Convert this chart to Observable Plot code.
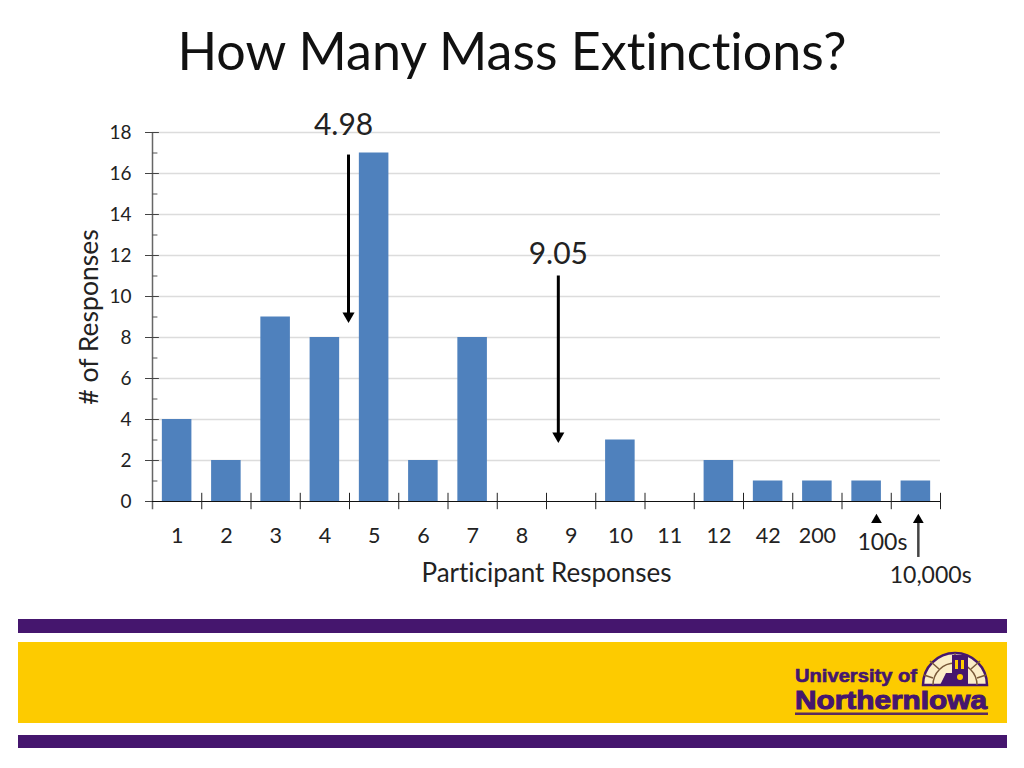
<!DOCTYPE html>
<html>
<head>
<meta charset="utf-8">
<script src="https://cdn.jsdelivr.net/npm/d3@7"></script>
<script src="https://cdn.jsdelivr.net/npm/@observablehq/plot@0.6"></script>
<style>
  html, body { margin: 0; padding: 0; background: #fff; width: 1024px; height: 768px; overflow: hidden; font-family: Lato, sans-serif; font-variant-ligatures: none; }
  #title { height: 100px; margin: 0; line-height: 100px; text-align: center; font-size: 52px; font-weight: 400; color: #111; }
  #chart svg { display: block; }
  .band { position: absolute; left: 18px; width: 989px; }
  #logo { position: absolute; left: 780px; top: 642px; }
</style>
</head>
<body>
<h1 id="title">How Many Mass Extinctions?</h1>
<div id="chart"></div>
<div class="band" style="top:619px;height:14px;background:#45166e"></div>
<div class="band" style="top:642px;height:81px;background:#fdcb00"></div>
<div class="band" style="top:735px;height:13px;background:#45166e"></div>
<svg id="logo" width="220" height="81" viewBox="0 0 220 81">
  <path d="M143 43 A32 32 0 0 1 207 43 Z" fill="#fbedc8" stroke="#45166e" stroke-width="2.5"/>
  <g stroke="#7a5a3a" stroke-width="1.5" fill="none">
    <path d="M153 43 A22 22 0 0 1 197 43"/>
    <path d="M175 21 L175 11 M159 27 L150 19 M191 27 L200 19 M153 36 L144 33 M197 36 L206 33"/>
  </g>
  <path d="M172 13 H188 V43 H160 L166 31 H172 Z" fill="#45166e"/>
  <rect x="175" y="18" width="3" height="9" fill="#fdcb00"/>
  <rect x="181" y="18" width="3" height="9" fill="#fdcb00"/>
  <circle cx="180" cy="35" r="3" fill="#fdcb00"/>
  <text x="15" y="40" font-family="Liberation Sans" font-weight="700" font-size="18" fill="#45166e" stroke="#45166e" stroke-width=".6" textLength="122" lengthAdjust="spacingAndGlyphs">University of</text>
  <text x="15" y="67" font-family="Liberation Sans" font-weight="700" font-size="25" fill="#45166e" stroke="#45166e" stroke-width="1" textLength="192" lengthAdjust="spacingAndGlyphs">NorthernIowa</text>
  <rect x="15" y="70.5" width="193" height="2.5" fill="#5a2a5e"/>
</svg>
<script>
const categories = ["1","2","3","4","5","6","7","8","9","10","11","12","42","200","100s","10,000s"];
const counts = [4,2,9,8,17,2,8,0,0,3,0,2,1,1,1,1];
const axisLabels = ["1","2","3","4","5","6","7","8","9","10","11","12","42","200"];
const yMajor = [0,2,4,6,8,10,12,14,16,18];
const yMinor = [1,3,5,7,9,11,13,15,17];
const means = [
  {label: "4.98", lx: 3.88, ly: 18.35, ax: 3.98, top: 16.9, tip: 9.05},
  {label: "9.05", lx: 8.24, ly: 12.05, ax: 8.24, top: 11.0, tip: 3.2}
];
const outliers = [
  {label: "100s", lx: 14.82, ly: -2.0, ax: 14.7, bottom: -0.95, tip: -0.9},
  {label: "10,000s", lx: 15.8, ly: -3.62, ax: 15.55, bottom: -2.73, tip: -0.9}
];
const bars = categories.map((c, i) => ({c, i, n: counts[i]})).filter(d => d.n > 0);
const separators = d3.range(1, 17);

const ink = "#222";
const plot = Plot.plot({
  width: 1024,
  height: 519,
  marginTop: 32,
  marginBottom: 118,
  marginLeft: 152,
  marginRight: 84,
  style: {fontFamily: "Lato, sans-serif", background: "#fff", color: ink, overflow: "visible", fontVariantLigatures: "none"},
  x: {type: "linear", domain: [0, 16]},
  y: {type: "linear", domain: [0, 18]},
  marks: [
    Plot.ruleY(yMajor.slice(1), {stroke: "#dcdcdc", strokeWidth: 1.5}),
    Plot.rectY(bars, {x1: d => d.i + 0.2, x2: d => d.i + 0.8, y1: 0, y2: "n", fill: "#4f81bd"}),
    Plot.ruleX([0], {y1: -0.4, y2: 18, stroke: "#666", strokeWidth: 1.5}),
    Plot.ruleY(yMajor, {x1: 0, x2: 0.14, stroke: "#444", strokeWidth: 1}),
    Plot.ruleY(yMinor, {x1: 0, x2: 0.11, stroke: "#555", strokeWidth: 1}),
    Plot.ruleY([0], {x1: -0.14, x2: 16, stroke: "#111", strokeWidth: 1.2}),
    Plot.ruleX(separators, {y1: 0.4, y2: -0.4, stroke: "#222", strokeWidth: 1}),
    Plot.axisY({ticks: yMajor, tickSize: 7, tickPadding: 14, stroke: "#444", fontSize: 19, label: null, tickFormat: d => String(d)}),
    Plot.axisY({ticks: [], label: "# of Responses", labelAnchor: "center", labelArrow: "none", labelOffset: 73, fontSize: 26.5}),
    Plot.axisX({ticks: axisLabels.map((_, i) => i + 0.5), tickSize: 0, tickPadding: 26, fontSize: 21.5, label: null, tickFormat: d => axisLabels[d - 0.5]}),
    Plot.axisX({ticks: [], label: "Participant Responses", labelAnchor: "center", labelArrow: "none", labelOffset: 80, fontSize: 26}),
    Plot.ruleX(means, {x: "ax", y1: "top", y2: "tip", stroke: "#000", strokeWidth: 3}),
    Plot.dot(means, {x: "ax", y: "tip", symbol: "triangle", r: 4.5, fill: "#000", stroke: "none", rotate: 180}),
    Plot.text(means, {x: "lx", y: "ly", text: "label", fontSize: 30, fill: ink}),
    Plot.ruleX(outliers.slice(1), {x: "ax", y1: "bottom", y2: "tip", stroke: "#444", strokeWidth: 2.5}),
    Plot.dot(outliers, {x: "ax", y: "tip", symbol: "triangle", r: 4, fill: "#000", stroke: "none"}),
    Plot.text(outliers, {x: "lx", y: "ly", text: "label", fontSize: 23, fill: ink})
  ]
});
document.getElementById("chart").appendChild(plot);
</script>
</body>
</html>
